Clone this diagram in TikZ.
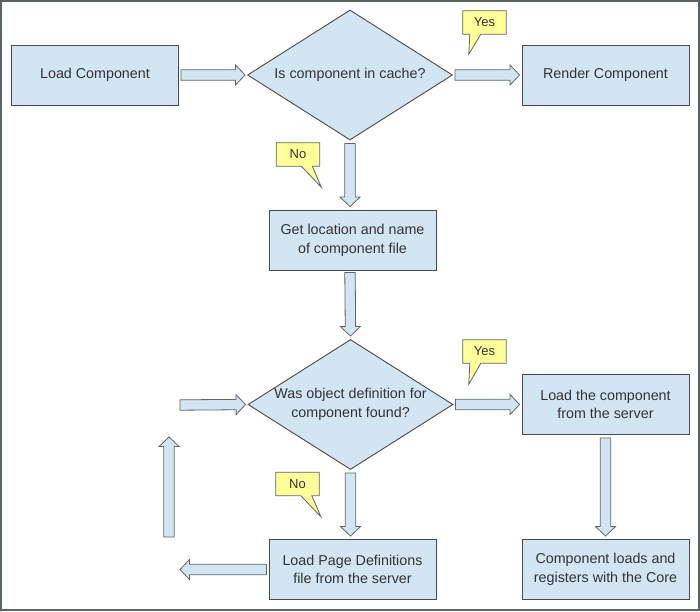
\documentclass[tikz,border=0pt]{standalone}
\usepackage{fontspec}
\setmainfont{Liberation Sans}
\usetikzlibrary{shapes.geometric,calc,backgrounds}
\definecolor{boxfill}{HTML}{D2E5F3}
\definecolor{boxline}{HTML}{4A4A4A}
\definecolor{arrline}{HTML}{5E6666}
\definecolor{calfill}{HTML}{FFFF99}
\definecolor{txt}{HTML}{333333}
\definecolor{framecol}{HTML}{5A6464}
\tikzset{
  every node/.style={text=txt, font=\fontsize{14.3}{18.6}\selectfont},
  procbox/.style={rectangle, draw=boxline, fill=boxfill, line width=0.9pt,
    minimum width=167pt, minimum height=60pt, align=center, inner sep=0pt},
  decision/.style={diamond, draw=boxline, fill=boxfill, line width=0.9pt,
    minimum width=205pt, minimum height=130pt, aspect=1.577, inner sep=0pt, align=center},
  fatstyle/.style={draw=arrline, fill=boxfill, line width=0.8pt, line join=miter},
  calloutstyle/.style={draw=arrline, fill=calfill, line width=0.8pt, line join=miter},
  callouttext/.style={font=\fontsize{13}{15}\selectfont, inner sep=0pt,
    minimum width=43pt, minimum height=23pt},
  framestyle/.style={draw=framecol, line width=2pt}
}
% fat block arrow from #1 to #2
\newcommand\fatarrow[2]{%
  \filldraw[fatstyle] let \p1=(#1), \p2=(#2), \p3=($(\p2)!9.5pt!(\p1)$) in
    ($(\p1)!5.2pt!90:(\p2)$) -- ($(\p3)!5.2pt!90:(\p2)$) -- ($(\p3)!10pt!90:(\p2)$)
    -- (\p2) -- ($(\p3)!10pt!-90:(\p2)$) -- ($(\p3)!5.2pt!-90:(\p2)$)
    -- ($(\p1)!5.2pt!-90:(\p2)$) -- cycle;}
% callout bubble around node #1; tail base at x-offsets #2,#3 from south west, tip offset (#4,#5)
\newcommand\bubble[5]{%
  \begin{pgfonlayer}{background}
  \filldraw[calloutstyle] (#1.north west) -- (#1.north east) -- (#1.south east)
    -- ([xshift=#3pt]#1.south west) -- ([xshift=#4pt,yshift=#5pt]#1.south west)
    -- ([xshift=#2pt]#1.south west) -- (#1.south west) -- cycle;
  \end{pgfonlayer}}
\begin{document}
\begin{tikzpicture}[x=1pt,y=-1pt]
\useasboundingbox (0,0) rectangle (700,611);
\draw[framestyle] (1,1) rectangle (699,610);

\node[procbox] (load) at (95,75) {Load Component};
\node[decision] (d1) at (350,75) {Is component in cache?};
\node[procbox] (render) at (605.5,75) {Render Component};
\node[procbox] (getloc) at (352.5,240) {Get location and name\\of component file};
\node[decision] (d2) at (350.5,404.5) {Was object definition for\\component found?};
\node[procbox] (loadcomp) at (605.5,404.5) {Load the component\\from the server};
\node[procbox] (loadpage) at (352.5,569.5) {Load Page Definitions\\file from the server};
\node[procbox] (registers) at (605.5,569.5) {Component loads and\\registers with the Core};

\node[callouttext] (yes1) at (484.5,22.5) {Yes};
\node[callouttext] (no1) at (298,154.5) {No};
\node[callouttext] (yes2) at (484.5,351.5) {Yes};
\node[callouttext] (no2) at (297.5,484) {No};
\bubble{yes1}{7}{18}{6}{-20}
\bubble{no1}{25}{36}{45}{-21}
\bubble{yes2}{7}{18}{6}{-21}
\bubble{no2}{25}{36}{45}{-21}

\coordinate (loopL) at (180,569.5);
\coordinate (loopB) at (169,537);
\coordinate (loopT) at (169,437);
\coordinate (loopR) at (180,405);

\fatarrow{[xshift=2pt]load.east}{[xshift=-2pt]d1.west}
\fatarrow{[xshift=2pt]d1.east}{[xshift=-2pt]render.west}
\fatarrow{[yshift=-3pt]d1.south}{$(d1.south |- getloc.north)+(0,-3)$}
\fatarrow{$(d1.south |- getloc.south)+(0,2)$}{[yshift=3pt]d2.north}
\fatarrow{[xshift=2pt]d2.east}{[xshift=-2pt]loadcomp.west}
\fatarrow{[yshift=-3pt]d2.south}{$(d2.south |- loadpage.north)+(0,-3)$}
\fatarrow{[yshift=-3pt]loadcomp.south}{[yshift=3pt]registers.north}
\fatarrow{[xshift=-2pt]loadpage.west}{loopL}
\fatarrow{loopB}{loopT}
\fatarrow{loopR}{[xshift=-2pt]d2.west}
\end{tikzpicture}
\end{document}
